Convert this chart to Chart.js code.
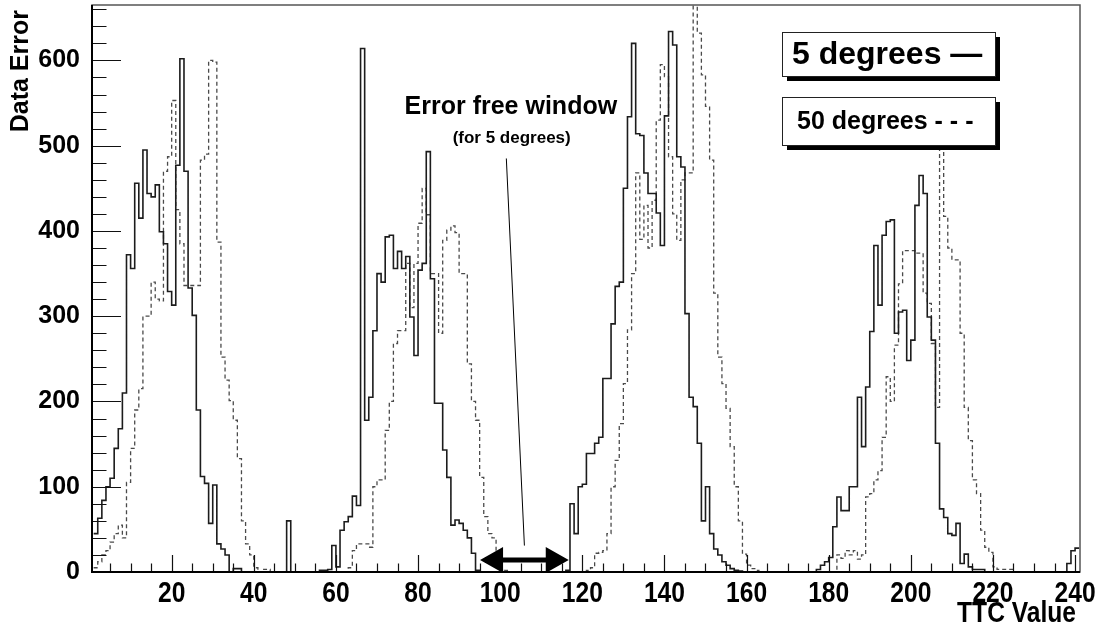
<!DOCTYPE html>
<html>
<head>
<meta charset="utf-8">
<title>TTC scan</title>
<script src="https://cdn.jsdelivr.net/npm/chart.js@4/dist/chart.umd.min.js"></script>
<style>
  html, body { margin: 0; padding: 0; background: #fff; }
  #box { width: 1104px; height: 630px; }
</style>
</head>
<body>
<div id="box"><canvas id="ttc" width="1104" height="630"></canvas></div>
<script>
// TTC histogram: one bin per TTC value, first bin starts at 1
const ttcFirst = 1;
const binWidth = 1;

// counts per bin, 5 degree run (solid)
const fiveDeg = [
  45, 63, 84, 100, 110, 145, 168, 210, 372, 356, 456, 415, 495, 444, 440, 454, 399, 385, 329, 313,
  477, 602, 470, 333, 301, 190, 112, 104, 57, 102, 33, 27, 20, 0, 4, 4, 0, 0, 0, 0,
  0, 0, 0, 0, 0, 0, 0, 60, 0, 0, 0, 0, 0, 0, 0, 2, 2, 3, 31, 6,
  49, 59, 65, 89, 78, 614, 178, 205, 283, 350, 340, 393, 395, 356, 376, 356, 370, 299, 254, 354,
  362, 493, 344, 198, 198, 143, 111, 55, 61, 57, 49, 40, 22, 2, 0, 0, 0, 0, 0, 0,
  0, 0, 0, 0, 0, 0, 0, 0, 0, 0, 0, 0, 0, 0, 0, 2, 80, 45, 100, 103,
  139, 139, 151, 158, 227, 227, 291, 335, 340, 450, 534, 620, 514, 512, 468, 444, 444, 421, 383, 535,
  634, 618, 487, 475, 303, 205, 194, 151, 60, 100, 45, 27, 20, 12, 8, 4, 2, 1, 0, 0,
  0, 0, 0, 0, 0, 0, 0, 0, 0, 0, 0, 0, 0, 0, 0, 0, 3, 8, 12, 17,
  53, 88, 72, 72, 100, 100, 205, 147, 217, 282, 383, 313, 395, 411, 413, 280, 305, 307, 248, 272,
  430, 465, 444, 299, 272, 151, 74, 64, 45, 43, 57, 10, 21, 6, 3, 3, 3, 0, 0, 0,
  0, 0, 0, 0, 0, 0, 0, 0, 0, 0, 0, 0, 0, 0, 0, 0, 0, 10, 25, 28
];

// counts per bin, 50 degree run (dashed)
const fiftyDeg = [
  5, 12, 20, 25, 35, 45, 55, 40, 105, 145, 190, 215, 300, 300, 340, 320, 318, 470, 487, 553,
  425, 385, 336, 336, 336, 336, 483, 490, 600, 598, 387, 252, 225, 201, 178, 133, 60, 33, 20, 5,
  0, 3, 3, 0, 0, 0, 0, 0, 0, 0, 0, 0, 0, 0, 0, 0, 0, 0, 0, 0,
  0, 0, 5, 25, 33, 33, 33, 29, 100, 108, 108, 166, 200, 268, 283, 283, 362, 310, 362, 409,
  450, 419, 350, 350, 280, 389, 401, 406, 398, 350, 350, 244, 200, 178, 111, 65, 45, 40, 10, 0,
  2, 0, 0, 0, 0, 0, 0, 0, 0, 0, 0, 0, 0, 0, 0, 0, 0, 0, 0, 0,
  2, 5, 22, 23, 25, 45, 100, 131, 174, 221, 284, 350, 468, 390, 430, 380, 436, 530, 595, 581,
  487, 420, 389, 460, 468, 468, 700, 632, 583, 546, 483, 327, 252, 221, 192, 147, 100, 60, 21, 8,
  4, 2, 0, 0, 0, 0, 0, 0, 0, 0, 0, 0, 0, 0, 0, 0, 0, 0, 0, 0,
  0, 20, 16, 25, 20, 25, 15, 20, 88, 92, 108, 119, 158, 229, 200, 266, 338, 377, 377, 377,
  374, 374, 327, 315, 268, 193, 540, 417, 380, 366, 366, 280, 193, 154, 108, 92, 49, 29, 23, 6,
  3, 3, 3, 3, 0, 0, 0, 0, 0, 0, 0, 0, 0, 0, 0, 0, 0, 0, 0, 0
];

// axis ranges and tick spacing
const xRange = [0.6, 241.2];
const yRange = [0, 665];
const xTickStep = 20;
const xMinorStep = 5;
const yTickStep = 100;
const yMinorStep = 20;

// legend entries and the annotation
const legendItems = ["5 degrees \u2014", "50 degrees - - -"];
const windowTitle = "Error free window";
const windowNote = "(for 5 degrees)";
const windowTitleAt = [102.6, 545];
const windowNoteAt = [102.8, 509];
const windowSpan = [95.1, 116.7];     // TTC range of the arrow
const pointerFrom = [101.5, 485];     // thin pointer line, data units
const pointerTo = [105.9, 31];

const sans = "'Liberation Sans', Arial, Helvetica, sans-serif";
const squeeze = 0.82;   // x axis text is set condensed

// bins -> points for a stepped outline (left edge of every bin + closing edge)
function histSteps(counts) {
    const pts = counts.map((c, i) => ({ x: ttcFirst + i * binWidth, y: c }));
    pts.push({ x: ttcFirst + counts.length * binWidth, y: counts[counts.length - 1] });
    return pts;
}

function condensedText(ctx, text, px, py, align) {
    ctx.save();
    ctx.translate(px, py);
    ctx.scale(squeeze, 1);
    ctx.textAlign = align;
    ctx.fillText(text, 0, 0);
    ctx.restore();
}

// ROOT style frame: inward ticks, box, axis titles, legend boxes, window annotation
const rootFrame = {
    id: "rootFrame",
    afterDatasetsDraw(chart) {
        const { ctx, chartArea: a, scales: { x, y } } = chart;
        ctx.save();

        // ticks
        ctx.strokeStyle = "#111";
        ctx.lineWidth = 1.2;
        ctx.beginPath();
        for (let v = Math.ceil(x.min / xMinorStep) * xMinorStep; v <= x.max; v += xMinorStep) {
            const px = Math.round(x.getPixelForValue(v)) + 0.5;
            const len = v % xTickStep === 0 ? 17 : 8.5;
            ctx.moveTo(px, a.bottom);
            ctx.lineTo(px, a.bottom - len);
        }
        for (let v = 0; v <= y.max; v += yMinorStep) {
            const py = Math.round(y.getPixelForValue(v)) + 0.5;
            const len = v % yTickStep === 0 ? 29 : 14.5;
            ctx.moveTo(a.left, py);
            ctx.lineTo(a.left + len, py);
        }
        ctx.stroke();

        // frame
        ctx.strokeStyle = "#555";
        ctx.lineWidth = 1.5;
        ctx.strokeRect(a.left, a.top, a.right - a.left, a.bottom - a.top);
        ctx.strokeStyle = "#000";
        ctx.lineWidth = 2;
        ctx.beginPath();
        ctx.moveTo(a.left, a.top);
        ctx.lineTo(a.left, a.bottom);
        ctx.lineTo(a.right, a.bottom);
        ctx.stroke();

        // x tick labels and axis title, condensed
        ctx.fillStyle = "#000";
        ctx.font = "bold 30px " + sans;
        ctx.textBaseline = "alphabetic";
        x.ticks.forEach(t => {
            condensedText(ctx, String(t.value), x.getPixelForValue(t.value), a.bottom + 30, "center");
        });
        condensedText(ctx, "TTC Value", a.right - 4, a.bottom + 50, "right");

        // y axis title, rotated, ending near the top of the frame
        ctx.save();
        ctx.translate(21, a.top + 5);
        ctx.rotate(-Math.PI / 2);
        ctx.font = "bold 25px " + sans;
        ctx.textAlign = "right";
        ctx.textBaseline = "middle";
        ctx.fillText("Data Error", 0, 0);
        ctx.restore();

        // legend boxes with drop shadow
        const boxes = [
            { text: legendItems[0], top: 32, h: 44, size: 32, pad: 10 },
            { text: legendItems[1], top: 97, h: 48, size: 25, pad: 15 }
        ];
        const bx = a.right - 298, bw = 213;
        boxes.forEach(b => {
            ctx.fillStyle = "#000";
            ctx.fillRect(bx + 5, b.top + 5, bw, b.h);
            ctx.fillStyle = "#fff";
            ctx.fillRect(bx, b.top, bw, b.h);
            ctx.strokeStyle = "#222";
            ctx.lineWidth = 1;
            ctx.strokeRect(bx + 0.5, b.top + 0.5, bw, b.h);
            ctx.fillStyle = "#000";
            ctx.font = "bold " + b.size + "px " + sans;
            ctx.textAlign = "left";
            ctx.textBaseline = "middle";
            ctx.fillText(b.text, bx + b.pad, b.top + b.h / 2 + 1);
        });

        // error free window: caption, pointer line and double arrow
        ctx.textAlign = "center";
        ctx.textBaseline = "middle";
        ctx.font = "bold 25px " + sans;
        ctx.fillText(windowTitle, x.getPixelForValue(windowTitleAt[0]), y.getPixelForValue(windowTitleAt[1]));
        ctx.font = "bold 17px " + sans;
        ctx.fillText(windowNote, x.getPixelForValue(windowNoteAt[0]), y.getPixelForValue(windowNoteAt[1]));

        ctx.strokeStyle = "#000";
        ctx.lineWidth = 1;
        ctx.beginPath();
        ctx.moveTo(x.getPixelForValue(pointerFrom[0]), y.getPixelForValue(pointerFrom[1]));
        ctx.lineTo(x.getPixelForValue(pointerTo[0]), y.getPixelForValue(pointerTo[1]));
        ctx.stroke();

        const x0 = x.getPixelForValue(windowSpan[0]);
        const x1 = x.getPixelForValue(windowSpan[1]);
        const ay = y.getPixelForValue(14);
        const head = 23, half = 13, shaft = 2.5;
        ctx.fillStyle = "#000";
        ctx.beginPath();
        ctx.moveTo(x0, ay);
        ctx.lineTo(x0 + head, ay - half);
        ctx.lineTo(x0 + head, ay - shaft);
        ctx.lineTo(x1 - head, ay - shaft);
        ctx.lineTo(x1 - head, ay - half);
        ctx.lineTo(x1, ay);
        ctx.lineTo(x1 - head, ay + half);
        ctx.lineTo(x1 - head, ay + shaft);
        ctx.lineTo(x0 + head, ay + shaft);
        ctx.lineTo(x0 + head, ay + half);
        ctx.closePath();
        ctx.fill();

        ctx.restore();
    }
};

const ctx = document.getElementById("ttc").getContext("2d");
new Chart(ctx, {
    type: "line",
    data: {
        datasets: [
            {
                label: "5 degrees",
                data: histSteps(fiveDeg),
                borderColor: "#1c1c1c",
                borderWidth: 1.6,
                stepped: "before",
                pointRadius: 0,
                fill: false
            },
            {
                label: "50 degrees",
                data: histSteps(fiftyDeg),
                borderColor: "#4a4a4a",
                borderWidth: 1.3,
                borderDash: [4, 3],
                stepped: "before",
                pointRadius: 0,
                fill: false
            }
        ]
    },
    options: {
        responsive: false,
        animation: false,
        devicePixelRatio: 1,
        layout: { padding: { left: 0, top: 5, right: 24, bottom: 0 } },
        plugins: {
            legend: { display: false },
            tooltip: { enabled: false }
        },
        scales: {
            x: {
                type: "linear",
                min: xRange[0],
                max: xRange[1],
                afterFit: (s) => { s.height = 58; },
                grid: { display: false, drawTicks: false },
                border: { display: false },
                // labels are drawn condensed by rootFrame
                ticks: {
                    display: false,
                    stepSize: xTickStep,
                    includeBounds: false,
                    autoSkip: false
                }
            },
            y: {
                min: yRange[0],
                max: yRange[1],
                // fixed gutter; no extra room for half labels at the ends
                afterFit: (s) => {
                    s.width = 92;
                    s.paddingTop = 0;
                    s.paddingBottom = 0;
                },
                grid: { display: false, drawTicks: false },
                border: { display: false },
                ticks: {
                    stepSize: yTickStep,
                    includeBounds: false,
                    padding: 12,
                    color: "#000",
                    font: { family: sans, weight: "bold", size: 25 }
                }
            }
        }
    },
    plugins: [rootFrame]
});
</script>
</body>
</html>
